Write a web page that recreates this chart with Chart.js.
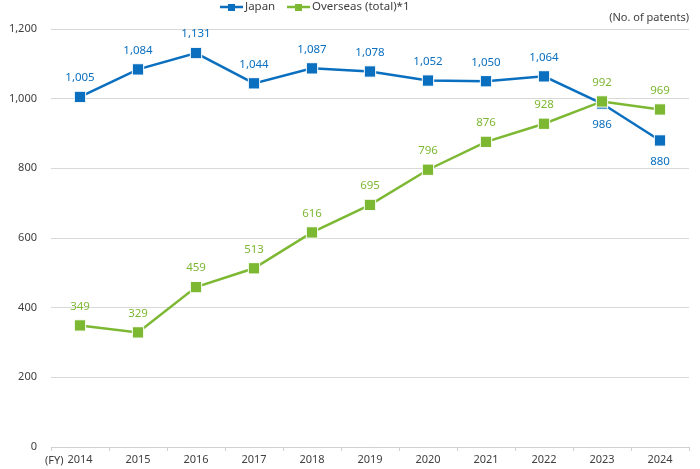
<!DOCTYPE html>
<html>
<head>
<meta charset="utf-8">
<script src="https://cdn.jsdelivr.net/npm/chart.js@4"></script>
<style>
  html, body { margin: 0; padding: 0; background: #fff; }
  #wrap { width: 700px; height: 469px; }
</style>
</head>
<body>
<div id="wrap"><canvas id="chart"></canvas></div>
<script>
const years = ["2014", "2015", "2016", "2017", "2018", "2019", "2020", "2021", "2022", "2023", "2024"];
const japan = [1005, 1084, 1131, 1044, 1087, 1078, 1052, 1050, 1064, 986, 880];
const overseas = [349, 329, 459, 513, 616, 695, 796, 876, 928, 992, 969];
const seriesNames = ["Japan", "Overseas (total)*1"];
const yTicks = [0, 200, 400, 600, 800, 1000, 1200];

const BLUE = "#0a6fbf";
const GREEN = "#7db833";
const FONT = '"Noto Sans", sans-serif';
const fmt = (n) => Number(n).toLocaleString("en-US");

// labels under the point for Japan where the lines cross
const japanBelow = [9, 10];

const labelsPlugin = {
    id: "valueLabels",
    afterDatasetsDraw(chart) {
        const ctx = chart.ctx;
        ctx.save();
        ctx.font = "11.5px " + FONT;
        ctx.textAlign = "center";
        ctx.textBaseline = "middle";
        chart.data.datasets.forEach((ds, di) => {
            const meta = chart.getDatasetMeta(di);
            meta.data.forEach((pt, i) => {
                const below = ds.label === "Japan" && japanBelow.includes(i);
                ctx.fillStyle = ds.borderColor;
                ctx.fillText(fmt(ds.data[i]), pt.x, below ? pt.y + 21 : pt.y - 19);
            });
        });
        ctx.restore();
    }
};

const extrasPlugin = {
    id: "extras",
    afterDraw(chart) {
        const ctx = chart.ctx;
        ctx.save();
        ctx.font = "11px " + FONT;
        ctx.fillStyle = "#404040";
        ctx.textBaseline = "middle";
        ctx.textAlign = "right";
        ctx.fillText("(No. of patents)", 689, 18);
        ctx.textAlign = "left";
        ctx.fillText("(FY)", 45, 461);

        // legend
        const items = [
            { name: seriesNames[0], color: BLUE, x: 220 },
            { name: seriesNames[1], color: GREEN, x: 287 }
        ];
        ctx.font = "11.5px " + FONT;
        items.forEach(it => {
            ctx.strokeStyle = it.color;
            ctx.lineWidth = 2.5;
            ctx.beginPath();
            ctx.moveTo(it.x, 7);
            ctx.lineTo(it.x + 23, 7);
            ctx.stroke();
            ctx.fillStyle = it.color;
            ctx.fillRect(it.x + 8, 4, 7, 7);
            ctx.fillStyle = "#404040";
            ctx.fillText(it.name, it.x + 25, 7);
        });
        ctx.restore();
    }
};

new Chart(document.getElementById("chart"), {
    type: "line",
    data: {
        labels: years,
        datasets: [
            {
                label: seriesNames[0],
                data: japan,
                borderColor: BLUE,
                backgroundColor: BLUE,
                borderWidth: 2.5,
                pointStyle: "rect",
                pointRadius: 8,
                pointBorderColor: "#ffffff",
                pointBorderWidth: 1,
                order: 2
            },
            {
                label: seriesNames[1],
                data: overseas,
                borderColor: GREEN,
                backgroundColor: GREEN,
                borderWidth: 2.5,
                pointStyle: "rect",
                pointRadius: 8,
                pointBorderColor: "#ffffff",
                pointBorderWidth: 1,
                order: 1
            }
        ]
    },
    options: {
        responsive: true,
        maintainAspectRatio: false,
        animation: false,
        layout: { padding: { top: 29, right: 11, left: 0, bottom: 0 } },
        plugins: {
            legend: { display: false },
            tooltip: { enabled: false }
        },
        scales: {
            x: {
                offset: true,
                grid: {
                    offset: true,
                    drawOnChartArea: false,
                    drawTicks: true,
                    tickLength: 4,
                    color: "#d0d0d0"
                },
                border: { color: "#d0d0d0", width: 1 },
                ticks: {
                    color: "#404040",
                    font: { family: FONT, size: 11 },
                    padding: 2,
                    maxRotation: 0
                },
                afterFit(s) { s.height = 22; }
            },
            y: {
                min: 0,
                max: 1200,
                afterBuildTicks(s) { s.ticks = yTicks.map(v => ({ value: v })); },
                grid: {
                    color: "#d9d9d9",
                    drawTicks: false
                },
                border: { display: false },
                ticks: {
                    color: "#404040",
                    font: { family: FONT, size: 11 },
                    padding: 14,
                    callback: (v) => fmt(v)
                },
                afterFit(s) { s.width = 51; }
            }
        }
    },
    plugins: [labelsPlugin, extrasPlugin]
});
</script>
</body>
</html>
